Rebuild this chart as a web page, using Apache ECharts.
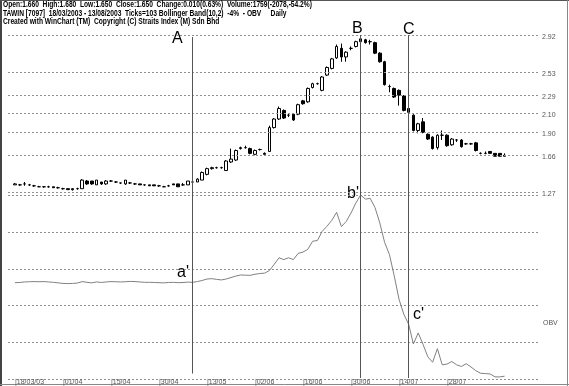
<!DOCTYPE html>
<html><head><meta charset="utf-8">
<script src="https://cdn.jsdelivr.net/npm/echarts@6/dist/echarts.min.js"></script>
<style>html,body{margin:0;padding:0;background:#fff}#c{width:569px;height:386px}</style>
</head><body><div id="c"></div>
<script>
// ---- data ----
const open  = [1.35,1.35,1.36,1.35,1.34,1.33,1.33,1.33,1.33,1.32, 1.31,1.31,1.31,1.31,1.31,1.39,1.39,1.35,1.38,1.36,
               1.39,1.38,1.37,1.36,1.37,1.36,1.36,1.35,1.35,1.35, 1.34,1.33,1.34,1.36,1.36,1.35,1.35,1.38,1.38,1.40,
               1.46,1.52,1.53,1.53,1.50,1.59,1.61,1.73,1.74,1.73, 1.67,1.72,1.68,1.70,1.95,2.04,2.13,2.08,2.09,2.09,
               2.23,2.22,2.37,2.41,2.34,2.50,2.57,2.68,2.78,2.69, 2.78,2.80,2.85,2.87,2.85,2.84,2.73,2.64,2.38,2.36,
               2.34,2.28,2.15,2.08,1.92,2.01,1.88,1.85,1.74,1.87, 1.87,1.77,1.82,1.82,1.78,1.78,1.79,1.68,1.68,1.70,
               1.68,1.68,1.66];
const close = [1.36,1.35,1.36,1.35,1.34,1.33,1.33,1.33,1.32,1.32, 1.31,1.30,1.30,1.31,1.40,1.36,1.36,1.40,1.36,1.39,
               1.39,1.38,1.37,1.40,1.37,1.36,1.35,1.35,1.34,1.34, 1.34,1.33,1.34,1.35,1.33,1.35,1.39,1.38,1.41,1.48,
               1.52,1.53,1.53,1.53,1.60,1.62,1.71,1.74,1.74,1.68, 1.71,1.72,1.67,1.95,2.04,2.15,2.05,2.08,2.03,2.19,
               2.20,2.36,2.41,2.41,2.48,2.58,2.67,2.80,2.69,2.74, 2.78,2.85,2.88,2.84,2.85,2.73,2.64,2.40,2.38,2.27,
               2.29,2.13,2.11,1.92,1.99,1.90,1.83,1.73,1.87,1.87, 1.76,1.83,1.82,1.75,1.78,1.78,1.71,1.68,1.68,1.68,
               1.65,1.65,1.65];
const low   = [1.35,1.34,1.34,1.34,1.33,1.33,1.32,1.32,1.32,1.31, 1.30,1.30,1.29,1.30,1.31,1.35,1.35,1.35,1.35,1.35,
               1.38,1.37,1.36,1.35,1.36,1.35,1.35,1.34,1.34,1.34, 1.33,1.33,1.33,1.35,1.33,1.34,1.35,1.37,1.38,1.40,
               1.45,1.51,1.52,1.52,1.50,1.58,1.60,1.72,1.73,1.67, 1.66,1.71,1.67,1.70,1.94,2.03,2.04,2.06,2.02,2.08,
               2.19,2.21,2.36,2.40,2.33,2.49,2.56,2.67,2.64,2.64, 2.76,2.79,2.84,2.83,2.82,2.72,2.63,2.39,2.32,2.26,
               2.18,2.12,2.08,1.91,1.89,1.89,1.82,1.72,1.72,1.82, 1.75,1.76,1.80,1.74,1.77,1.77,1.70,1.67,1.67,1.68,
               1.65,1.65,1.65];
const high  = [1.37,1.36,1.38,1.36,1.35,1.34,1.33,1.34,1.33,1.33, 1.32,1.31,1.31,1.32,1.41,1.40,1.39,1.40,1.38,1.40,
               1.40,1.39,1.37,1.40,1.38,1.37,1.36,1.35,1.35,1.35, 1.35,1.34,1.35,1.36,1.36,1.37,1.39,1.39,1.42,1.49,
               1.53,1.54,1.54,1.54,1.61,1.73,1.72,1.75,1.76,1.74, 1.72,1.73,1.69,1.97,2.05,2.17,2.14,2.10,2.10,2.20,
               2.24,2.37,2.42,2.42,2.49,2.59,2.68,2.82,2.83,2.75, 2.80,2.86,2.91,2.88,2.87,2.85,2.74,2.65,2.40,2.37,
               2.35,2.29,2.16,2.09,2.00,2.05,1.89,1.86,1.88,1.92, 1.88,1.84,1.83,1.83,1.79,1.79,1.80,1.69,1.70,1.70,
               1.68,1.68,1.68];
const obv   = [26000,26050,26200,26250,26300,26250,26300,26200,26100,25950,
               25800,25750,25800,25900,26300,26100,25950,26200,26050,26200,
               26300,26250,26200,26250,26350,26300,26200,26100,26100,26050,
               26000,25950,26050,26100,26000,26050,26150,26100,26300,26600,
               27000,27100,26900,26750,27000,27400,27800,28100,28050,28000,
               28300,28500,28600,29300,31000,32800,32300,32800,32300,34000,
               34350,35100,37300,37500,40000,41400,43000,45200,41300,42700,
               45000,47700,49900,48800,49000,46500,42300,37000,33700,27900,
               21500,17400,14700,9300,12300,9200,5800,4300,8000,3600,
               3800,4500,3600,3150,3900,3000,2000,1300,1200,1100,
               300,300,500];
const priceLevels = [2.92, 2.53, 2.29, 2.10, 1.90, 1.66, 1.27];
const dateLabels = ['18/03/03','01/04','15/04','30/04','13/05','02/06','16/06','30/06','14/07','28/07'];
const labelStep = 10;
const markerIndex = {A: 37, B: 72, C: 82};
const obvGridMax = 50000, obvGridStep = 10000;
const headerLines = [
  'Open:1.660  High:1.680  Low:1.650  Close:1.650  Change:0.010(0.63%)  Volume:1759(-2078,-54.2%)',
  'TAWIN [7097]  18/03/2003 - 13/08/2003  Ticks=103 Bollinger Band(10,2)  -4%  - OBV     Daily',
  'Created with WinChart (TM)  Copyright (C) Straits Index (M) Sdn Bhd'
];

// ---- layout ----
const FONT = 'Liberation Sans';
const paneTop = 35, priceBottom = 192.5, obvTop = 195.3, obvBottom = 379.3;
const gridL = 8, gridR = 540, candleL = 12.6, candleW = 494.4;
const obvAxisMax = obvGridMax * (obvBottom - paneTop) / (obvBottom - obvTop);

const cats = close.map((_, i) => i);
const candles = close.map((c, i) => [open[i], c, low[i], high[i]]);
const gridLine = {type: [2, 2], color: '#909090', width: 1};
const vLine = {type: 'solid', color: '#555', width: 1};

const chart = echarts.init(document.getElementById('c'), null, {renderer: 'canvas'});
chart.setOption({
  animation: false,
  backgroundColor: '#fff',
  grid: [
    {left: gridL, top: paneTop, width: gridR - gridL, height: priceBottom - paneTop},
    {left: candleL, top: paneTop, width: candleW, height: priceBottom - paneTop},
    {left: gridL, top: obvTop, width: gridR - gridL, height: obvBottom - obvTop},
    {left: candleL, top: paneTop, width: candleW, height: obvBottom - paneTop}
  ],
  xAxis: [
    {gridIndex: 0, type: 'value', min: 0, max: 1, show: false},
    {gridIndex: 1, type: 'category', data: cats, show: false},
    {gridIndex: 2, type: 'value', min: 0, max: 1, show: false},
    {gridIndex: 3, type: 'category', data: cats,
     axisLine: {show: false}, axisTick: {show: false}, splitLine: {show: false},
     axisLabel: {interval: labelStep - 1, margin: 1, align: 'left', fontSize: 7, color: '#555', fontFamily: FONT,
                 formatter: (v, i) => dateLabels[i / labelStep] ? '|' + dateLabels[i / labelStep] : ''}}
  ],
  yAxis: [
    {gridIndex: 0, type: 'value', min: priceLevels[priceLevels.length - 1], max: priceLevels[0], show: false},
    {gridIndex: 1, type: 'value', min: priceLevels[priceLevels.length - 1], max: priceLevels[0], show: false},
    {gridIndex: 2, type: 'value', min: 0, max: obvGridMax, interval: obvGridStep,
     axisLine: {show: false}, axisTick: {show: false}, axisLabel: {show: false},
     splitLine: {show: true, lineStyle: gridLine}},
    {gridIndex: 3, type: 'value', min: 0, max: obvAxisMax, show: false}
  ],
  series: [
    {type: 'scatter', xAxisIndex: 0, yAxisIndex: 0, symbolSize: 0, silent: true,
     data: priceLevels.map(v => [0.5, v]),
     markLine: {silent: true, symbol: ['none', 'none'], lineStyle: gridLine,
       label: {position: 'end', distance: 2, offset: [0, 2], fontSize: 7, color: '#555', fontFamily: FONT,
               formatter: p => p.value.toFixed(2)},
       data: priceLevels.map(v => ({yAxis: v}))}},
    {type: 'candlestick', xAxisIndex: 1, yAxisIndex: 1, barWidth: 3, silent: true,
     itemStyle: {color: '#fff', color0: '#000', borderColor: '#000', borderColor0: '#000', borderWidth: 1},
     data: candles},
    {type: 'line', xAxisIndex: 3, yAxisIndex: 3, data: obv, symbol: 'none', silent: true,
     lineStyle: {color: '#808080', width: 1},
     markLine: {silent: true, symbol: ['none', 'none'], lineStyle: vLine, label: {show: false},
       data: [
         [{xAxis: markerIndex.A, yAxis: obvAxisMax * 0.013}, {xAxis: markerIndex.A, yAxis: obvAxisMax * 0.994}],
         {xAxis: markerIndex.B},
         {xAxis: markerIndex.C}
       ]}}
  ],
  graphic: [
    {type: 'rect', shape: {x: 0, y: 0, width: 2, height: 386}, style: {fill: '#444'}, silent: true},
    {type: 'line', shape: {x1: 0, y1: 0.5, x2: 569, y2: 0.5}, style: {stroke: '#555', lineWidth: 1}, silent: true},
    {type: 'line', shape: {x1: 567.5, y1: 0, x2: 567.5, y2: 386}, style: {stroke: '#888', lineWidth: 1}, silent: true},
    {type: 'line', shape: {x1: 0, y1: 384.5, x2: 569, y2: 384.5}, style: {stroke: '#888', lineWidth: 1}, silent: true},
    ...headerLines.map((t, k) => ({type: 'text', x: 3, y: 0.5 + k * 8.4, scaleX: 0.74, silent: true,
      style: {text: t, font: 'bold 9px "' + FONT + '"', fill: '#000', textVerticalAlign: 'top'}})),
    {type: 'text', x: 172, y: 39, silent: true, style: {text: 'A', font: '16px "' + FONT + '"', fill: '#000', textVerticalAlign: 'middle'}},
    {type: 'text', x: 352, y: 28.5, silent: true, style: {text: 'B', font: '16px "' + FONT + '"', fill: '#000', textVerticalAlign: 'middle'}},
    {type: 'text', x: 403, y: 29.5, silent: true, style: {text: 'C', font: '16px "' + FONT + '"', fill: '#000', textVerticalAlign: 'middle'}},
    {type: 'text', x: 177, y: 272.4, silent: true, style: {text: "a'", font: '16px "' + FONT + '"', fill: '#000', textVerticalAlign: 'middle'}},
    {type: 'text', x: 347, y: 193.4, silent: true, style: {text: "b'", font: '16px "' + FONT + '"', fill: '#000', textVerticalAlign: 'middle'}},
    {type: 'text', x: 413, y: 314.4, silent: true, style: {text: "c'", font: '16px "' + FONT + '"', fill: '#000', textVerticalAlign: 'middle'}},
    {type: 'text', x: 543, y: 323, silent: true, style: {text: 'OBV', font: '7px "' + FONT + '"', fill: '#555', textVerticalAlign: 'middle'}}
  ]
});
</script></body></html>
